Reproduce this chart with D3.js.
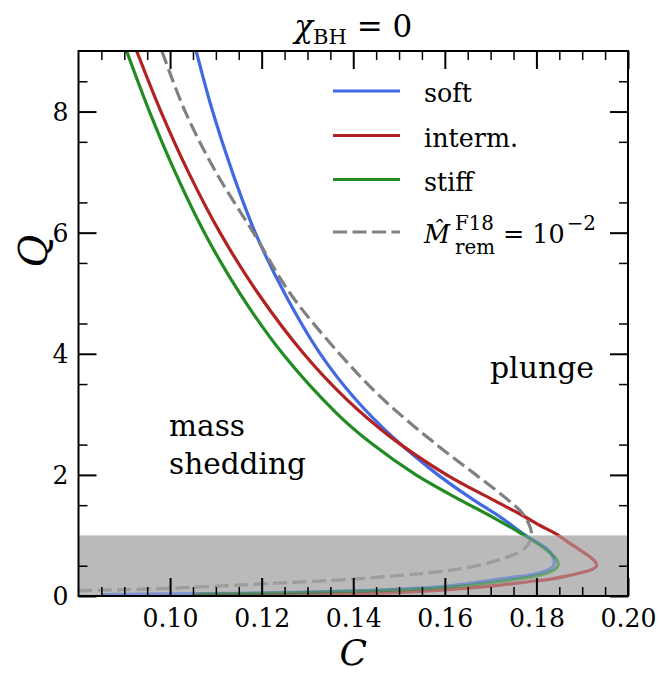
<!DOCTYPE html>
<html><head><meta charset="utf-8">
<script src="https://cdn.jsdelivr.net/npm/d3@7/dist/d3.min.js"></script>
<style>
body{margin:0;background:#fff}
</style>
</head><body>
<svg id="chart" width="660" height="673"></svg>
<script>
// ---------------- data ----------------
const xTicks = [0.10, 0.12, 0.14, 0.16, 0.18, 0.20];
const xTickLabels = ["0.10", "0.12", "0.14", "0.16", "0.18", "0.20"];
const yTicks = [0, 2, 4, 6, 8];
const yTickLabels = ["0", "2", "4", "6", "8"];
const xDomain = [0.08, 0.20];
const yDomain = [0, 9];
const bandQ = 1.0; // shaded region Q < 1

const seriesNames = ["soft", "interm.", "stiff"];
const seriesColors = ["#4169e1", "#b22222", "#228b22"];

// [C, Q] along each curve (upper branch -> nose -> lower branch)
const soft = [
  [0.1057, 9.0], [0.1093, 8.0], [0.1136, 7.0], [0.1186, 6.0], [0.1250, 5.0],
  [0.1328, 4.0], [0.1405, 3.25], [0.1484, 2.64], [0.1585, 2.0], [0.1660, 1.6],
  [0.1722, 1.3], [0.1773, 1.02], [0.1803, 0.88], [0.1823, 0.78], [0.1834, 0.68],
  [0.1839, 0.58], [0.1837, 0.50], [0.1828, 0.44], [0.1810, 0.39], [0.1794, 0.36],
  [0.1760, 0.32], [0.1720, 0.28], [0.1600, 0.16], [0.1500, 0.115], [0.1400, 0.085],
  [0.1200, 0.05], [0.1000, 0.035], [0.0850, 0.025]
];
const interm = [
  [0.0927, 9.0], [0.0980, 8.0], [0.1040, 7.0], [0.1109, 6.0], [0.1192, 5.0],
  [0.1292, 4.0], [0.1385, 3.25], [0.1479, 2.64], [0.1604, 2.0], [0.1702, 1.6],
  [0.1765, 1.35], [0.1809, 1.16], [0.1842, 1.03], [0.1875, 0.86], [0.1897, 0.75],
  [0.1918, 0.64], [0.1930, 0.55], [0.1931, 0.49], [0.1922, 0.44], [0.1897, 0.385],
  [0.1860, 0.32], [0.1831, 0.28], [0.1770, 0.225], [0.1721, 0.18], [0.1600, 0.10],
  [0.1500, 0.06], [0.1400, 0.04], [0.1200, 0.02], [0.1050, 0.01]
];
const stiff = [
  [0.0905, 9.0], [0.0955, 8.0], [0.1011, 7.0], [0.1075, 6.0], [0.1152, 5.0],
  [0.1246, 4.0], [0.1366, 3.0], [0.1443, 2.5], [0.1537, 2.0], [0.1630, 1.6],
  [0.1705, 1.3], [0.1765, 1.04], [0.1795, 0.9], [0.1815, 0.80], [0.1835, 0.68],
  [0.1846, 0.58], [0.1847, 0.50], [0.1838, 0.43], [0.1820, 0.37], [0.1800, 0.33],
  [0.1720, 0.24], [0.1600, 0.14], [0.1500, 0.10], [0.1400, 0.075], [0.1200, 0.045],
  [0.1056, 0.03]
];
const remnant = [
  [0.0982, 9.0], [0.1033, 8.0], [0.1100, 7.0], [0.1182, 6.0], [0.1262, 5.0],
  [0.1370, 4.0], [0.1465, 3.25], [0.1582, 2.5], [0.1668, 2.0], [0.1736, 1.6],
  [0.1768, 1.38], [0.1783, 1.2], [0.1789, 1.05], [0.1787, 0.92], [0.1776, 0.80],
  [0.1758, 0.71], [0.1736, 0.64], [0.1670, 0.5], [0.1575, 0.39], [0.1502, 0.34],
  [0.1400, 0.28], [0.1200, 0.2], [0.0997, 0.127], [0.0800, 0.088]
];

// ---------------- font detection ----------------
const svg = d3.select("#chart");
function textW(font, str) {
  const t = svg.append("text").attr("font-size", 40).style("font-family", font).text(str);
  const w = t.node().getComputedTextLength();
  t.remove();
  return w;
}
const sample = "shedding mass 0.10 plunge";
const baseW = textW("'NoSuchFontXYZ'", sample);
const candidates = ["Liberation Serif", "DejaVu Serif", "Noto Serif", "Tinos", "Times New Roman",
  "Nimbus Roman", "FreeSerif", "Times", "serif"];
let FONT = "serif";
for (const c of candidates) {
  const q = c === "serif" ? "serif" : `'${c}'`;
  if (Math.abs(textW(q + ", 'NoSuchFontXYZ'", sample) - baseW) > 0.5) { FONT = q; break; }
}
svg.attr("font-family", FONT).style("font-family", FONT);

// ---------------- layout ----------------
const L = 78.5, R = 628, T = 51, B = 596;
const x = d3.scaleLinear().domain(xDomain).range([L, R]);
const y = d3.scaleLinear().domain(yDomain).range([B, T]);

const defs = svg.append("defs");
defs.append("clipPath").attr("id", "clipAbove").append("rect")
  .attr("x", L).attr("y", T).attr("width", R - L).attr("height", y(bandQ) - T);
defs.append("clipPath").attr("id", "clipBelow").append("rect")
  .attr("x", L).attr("y", y(bandQ)).attr("width", R - L).attr("height", B - y(bandQ) + 3);

svg.append("rect").attr("x", L).attr("y", y(bandQ)).attr("width", R - L)
  .attr("height", y(0) - y(bandQ)).attr("fill", "#bababa");

const line = d3.line().x(d => x(d[0])).y(d => y(d[1])).curve(d3.curveCatmullRom.alpha(0.5));

function drawCurve(data, color, dashed) {
  [["clipBelow", 0.5], ["clipAbove", 1]].forEach(([clip, op]) => {
    svg.append("path").datum(data)
      .attr("d", line)
      .attr("fill", "none")
      .attr("stroke", color)
      .attr("stroke-width", 3.2)
      .attr("stroke-opacity", op)
      .attr("stroke-dasharray", dashed ? "14,5.5" : null)
      .attr("clip-path", `url(#${clip})`);
  });
}
drawCurve(soft, seriesColors[0], false);
drawCurve(interm, seriesColors[1], false);
drawCurve(stiff, seriesColors[2], false);
drawCurve(remnant, "#808080", true);

function addText(px, py, size, str) {
  return svg.append("text").attr("x", px).attr("y", py).attr("font-size", size)
    .style("font-family", FONT).attr("fill", "#000").text(str);
}
function fit(sel, target) {
  const w = sel.node().getComputedTextLength();
  const fs = parseFloat(sel.attr("font-size"));
  const nf = fs * target / w;
  sel.attr("font-size", nf);
  return nf;
}

// ---------------- axes ----------------
const xMinor = d3.range(0.085, 0.2, 0.005).filter(v => Math.abs(Math.round(v / 0.02) * 0.02 - v) > 1e-6);
const yMinor = d3.range(0.5, 9, 1);

function styleAxis(g, w) {
  g.select(".domain").remove();
  g.attr("font-family", FONT);
  g.selectAll("line").attr("stroke", "#000").attr("stroke-width", w);
  g.selectAll("text").style("font-family", FONT).attr("fill", "#000");
}
const probe = addText(0, -50, 31, "0.10");
const tickFs = fit(probe, 56);
probe.remove();

const gxB = svg.append("g").attr("transform", `translate(0,${B})`)
  .call(d3.axisBottom(x).tickValues(xTicks).tickFormat((d, i) => xTickLabels[i]).tickSize(-18).tickPadding(9));
styleAxis(gxB, 2);
gxB.selectAll("text").attr("font-size", tickFs).attr("dy", null).attr("y", 31);
const gxBm = svg.append("g").attr("transform", `translate(0,${B})`)
  .call(d3.axisBottom(x).tickValues(xMinor).tickFormat("").tickSize(-9));
styleAxis(gxBm, 1.5);
const gxT = svg.append("g").attr("transform", `translate(0,${T})`)
  .call(d3.axisTop(x).tickValues(xTicks).tickFormat("").tickSize(-18));
styleAxis(gxT, 2);
const gxTm = svg.append("g").attr("transform", `translate(0,${T})`)
  .call(d3.axisTop(x).tickValues(xMinor).tickFormat("").tickSize(-9));
styleAxis(gxTm, 1.5);

const gyL = svg.append("g").attr("transform", `translate(${L},0)`)
  .call(d3.axisLeft(y).tickValues(yTicks).tickFormat((d, i) => yTickLabels[i]).tickSize(-18).tickPadding(10));
styleAxis(gyL, 2);
gyL.selectAll("text").attr("font-size", tickFs).attr("dy", "0.34em");
const gyLm = svg.append("g").attr("transform", `translate(${L},0)`)
  .call(d3.axisLeft(y).tickValues(yMinor).tickFormat("").tickSize(-9));
styleAxis(gyLm, 1.5);
const gyR = svg.append("g").attr("transform", `translate(${R},0)`)
  .call(d3.axisRight(y).tickValues(yTicks).tickFormat("").tickSize(-18));
styleAxis(gyR, 2);
const gyRm = svg.append("g").attr("transform", `translate(${R},0)`)
  .call(d3.axisRight(y).tickValues(yMinor).tickFormat("").tickSize(-9));
styleAxis(gyRm, 1.5);

svg.append("rect").attr("x", L).attr("y", T).attr("width", R - L).attr("height", B - T)
  .attr("fill", "none").attr("stroke", "#000").attr("stroke-width", 2);

// ---------------- labels ----------------
const title = addText((L + R) / 2, 37, 31, null).attr("text-anchor", "middle");
title.append("tspan").attr("font-style", "italic").text("χ");
title.append("tspan").attr("font-size", 21).attr("dy", 7).text("BH");
title.append("tspan").attr("dy", -7).text(" = 0");

addText(0, 0, 40, "Q").attr("x", null).attr("y", null)
  .attr("transform", "translate(47,251) rotate(-90)")
  .attr("text-anchor", "middle").attr("font-style", "italic");
addText((L + R) / 2, 665, 36, "C").attr("text-anchor", "middle").attr("font-style", "italic");

const plunge = addText(490, 378, 37, "plunge");
fit(plunge, 104);
const shed = addText(169, 474, 37, "shedding");
const annFs = fit(shed, 137);
addText(169, 436, annFs, "mass");

// legend
const legY = [91, 135.5, 179.5, 232];
const legProbe = addText(0, -50, 31, "soft");
const legFs = fit(legProbe, 48);
legProbe.remove();
seriesNames.forEach((name, i) => {
  svg.append("line").attr("x1", 333).attr("x2", 400).attr("y1", legY[i]).attr("y2", legY[i])
    .attr("stroke", seriesColors[i]).attr("stroke-width", 3.2);
  addText(424, legY[i] + 11, legFs, name);
});
svg.append("line").attr("x1", 333).attr("x2", 400).attr("y1", legY[3]).attr("y2", legY[3])
  .attr("stroke", "#808080").attr("stroke-width", 3.2).attr("stroke-dasharray", "14,5.5");
const supFs = legFs * 0.78;
addText(424, 243, legFs, "M\u0302").attr("font-style", "italic");
addText(455, 230, supFs, "F18");
addText(455, 254, supFs, "rem");
const eq = addText(503, 243, legFs, "= 10");
const eqEnd = 503 + eq.node().getComputedTextLength();
addText(eqEnd + 2, 230, supFs, "−2");
</script>
</body></html>
